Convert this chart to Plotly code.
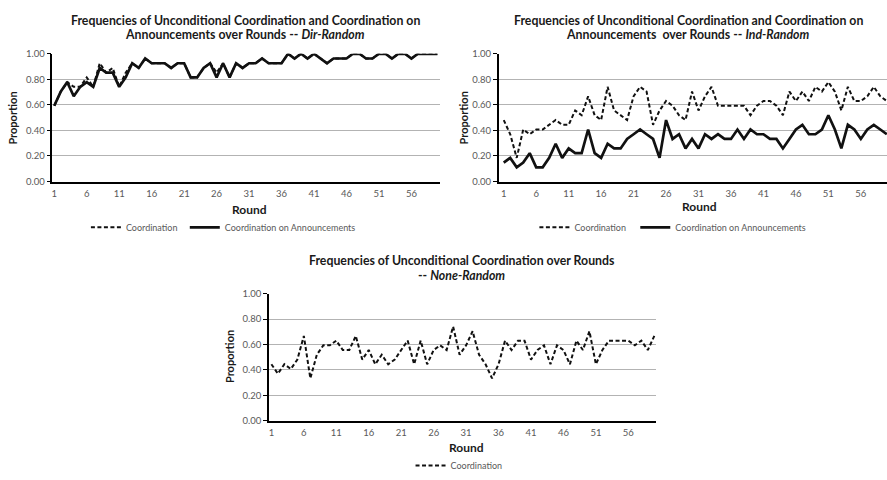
import plotly.graph_objects as go

rounds = list(range(1, 61))

# Dir-Random
dir_coord = [0.593, 0.704, 0.778, 0.741, 0.741, 0.815, 0.741, 0.926, 0.852, 0.889,
             0.741, 0.852, 0.926, 0.889, 0.963, 0.926, 0.926, 0.926, 0.889, 0.926,
             0.926, 0.815, 0.815, 0.889, 0.926, 0.852, 0.926, 0.815, 0.926, 0.889,
             0.926, 0.926, 0.963, 0.926, 0.926, 0.926, 1.0, 0.963, 1.0, 0.963,
             1.0, 0.963, 0.926, 0.963, 0.963, 0.963, 1.0, 1.0, 0.963, 0.963,
             1.0, 1.0, 0.963, 1.0, 1.0, 0.963, 1.0, 1.0, 1.0, 1.0]
dir_ann = [0.593, 0.704, 0.778, 0.667, 0.741, 0.778, 0.741, 0.889, 0.852, 0.852,
           0.741, 0.815, 0.926, 0.889, 0.963, 0.926, 0.926, 0.926, 0.889, 0.926,
           0.926, 0.815, 0.815, 0.889, 0.926, 0.815, 0.926, 0.815, 0.926, 0.889,
           0.926, 0.926, 0.963, 0.926, 0.926, 0.926, 1.0, 0.963, 1.0, 0.963,
           1.0, 0.963, 0.926, 0.963, 0.963, 0.963, 1.0, 1.0, 0.963, 0.963,
           1.0, 1.0, 0.963, 1.0, 1.0, 0.963, 1.0, 1.0, 1.0, 1.0]

# Ind-Random
ind_coord = [0.481, 0.370, 0.185, 0.407, 0.370, 0.407, 0.407, 0.444, 0.481, 0.444,
             0.444, 0.556, 0.519, 0.667, 0.519, 0.481, 0.741, 0.556, 0.519, 0.481,
             0.667, 0.741, 0.704, 0.444, 0.556, 0.630, 0.593, 0.519, 0.481, 0.704,
             0.556, 0.667, 0.741, 0.593, 0.593, 0.593, 0.593, 0.593, 0.519, 0.593,
             0.630, 0.630, 0.593, 0.519, 0.704, 0.630, 0.704, 0.630, 0.741, 0.704,
             0.778, 0.704, 0.556, 0.741, 0.630, 0.630, 0.667, 0.741, 0.667, 0.630]
ind_ann = [0.148, 0.185, 0.111, 0.148, 0.222, 0.111, 0.111, 0.185, 0.296, 0.185,
           0.259, 0.222, 0.222, 0.407, 0.222, 0.185, 0.296, 0.259, 0.259, 0.333,
           0.370, 0.407, 0.370, 0.333, 0.185, 0.481, 0.333, 0.370, 0.259, 0.333,
           0.259, 0.370, 0.333, 0.370, 0.333, 0.333, 0.407, 0.333, 0.407, 0.370,
           0.370, 0.333, 0.333, 0.259, 0.333, 0.407, 0.444, 0.370, 0.370, 0.407,
           0.519, 0.407, 0.259, 0.444, 0.407, 0.333, 0.407, 0.444, 0.407, 0.370]

# None-Random
none_coord = [0.444, 0.370, 0.444, 0.407, 0.481, 0.667, 0.333, 0.519, 0.593, 0.593,
              0.630, 0.556, 0.556, 0.667, 0.481, 0.556, 0.444, 0.519, 0.444, 0.481,
              0.556, 0.630, 0.444, 0.630, 0.444, 0.556, 0.593, 0.556, 0.741, 0.519,
              0.593, 0.704, 0.519, 0.444, 0.333, 0.444, 0.630, 0.556, 0.630, 0.630,
              0.481, 0.556, 0.593, 0.444, 0.593, 0.556, 0.444, 0.630, 0.556, 0.704,
              0.444, 0.556, 0.630, 0.630, 0.630, 0.630, 0.593, 0.630, 0.556, 0.667]

x_ticks = [1, 6, 11, 16, 21, 26, 31, 36, 41, 46, 51, 56]
y_ticks = [0.0, 0.2, 0.4, 0.6, 0.8, 1.0]
y_labels = ["0.00", "0.20", "0.40", "0.60", "0.80", "1.00"]

W, H = 887, 480
FONT = "Lato"
TICK_COLOR = "#595959"
GRID = "#b3b3b3"

def px(x):
    return x / W

def py(y):
    return (H - y) / H

dash_style = dict(color="#111111", width=2, dash="4px,2.5px")
solid_style = dict(color="#111111", width=2.7)

fig = go.Figure()
fig.add_trace(go.Scatter(x=rounds, y=dir_coord, mode="lines", name="Coordination",
                         line=dash_style, xaxis="x", yaxis="y", legend="legend"))
fig.add_trace(go.Scatter(x=rounds, y=dir_ann, mode="lines", name="Coordination on Announcements",
                         line=solid_style, xaxis="x", yaxis="y", legend="legend2"))
fig.add_trace(go.Scatter(x=rounds, y=ind_coord, mode="lines", name="Coordination",
                         line=dash_style, xaxis="x2", yaxis="y2", legend="legend3"))
fig.add_trace(go.Scatter(x=rounds, y=ind_ann, mode="lines", name="Coordination on Announcements",
                         line=solid_style, xaxis="x2", yaxis="y2", legend="legend4"))
fig.add_trace(go.Scatter(x=rounds, y=none_coord, mode="lines", name="Coordination",
                         line=dash_style, xaxis="x3", yaxis="y3", legend="legend5"))

def xaxis(domain, rng):
    return dict(domain=domain, range=rng, tickvals=x_ticks, showgrid=False, zeroline=False,
                showline=True, linecolor="#000000", linewidth=1.5, ticks="",
                ticklabelstandoff=2, tickfont=dict(family=FONT, size=9.5, color=TICK_COLOR),
                fixedrange=True)

def yaxis(domain, anchor):
    return dict(domain=domain, range=[0, 1], tickvals=y_ticks, ticktext=y_labels,
                showgrid=True, gridcolor=GRID, gridwidth=1, zeroline=False,
                showline=True, linecolor="#000000", linewidth=1.5, ticks="outside",
                ticklen=4, tickcolor="#000000", tickwidth=1,
                tickfont=dict(family=FONT, size=9.5, color=TICK_COLOR), anchor=anchor,
                fixedrange=True)

legend_common = dict(orientation="h", xanchor="left", yanchor="middle",
                     font=dict(family=FONT, size=9, color=TICK_COLOR),
                     bgcolor="rgba(0,0,0,0)", itemwidth=30,
                     itemclick=False, itemdoubleclick=False)

fig.update_layout(
    width=W, height=H,
    margin=dict(l=0, r=0, t=0, b=0),
    paper_bgcolor="white", plot_bgcolor="white",
    showlegend=True,
    xaxis=dict(**xaxis([px(51.5), px(439.5)], [0.72, 60.4]), anchor="y"),
    yaxis=yaxis([py(180), py(49)], "x"),
    xaxis2=dict(**xaxis([px(498.3), 1.0], [0.23, 60.03]), anchor="y2"),
    yaxis2=yaxis([py(180), py(49)], "x2"),
    xaxis3=dict(**xaxis([px(268.3), px(656)], [0.63, 60.3]), anchor="y3"),
    yaxis3=yaxis([py(425.3), py(295)], "x3"),
    legend=dict(**legend_common, x=px(85), y=py(227)),
    legend2=dict(**legend_common, x=px(184), y=py(227)),
    legend3=dict(**legend_common, x=px(534), y=py(227)),
    legend4=dict(**legend_common, x=px(635), y=py(227)),
    legend5=dict(**legend_common, x=px(410), y=py(471.5)),
)

title_font = dict(family=FONT, size=12.3, color="#1a1a1a")
axis_title_font = dict(family=FONT, size=12, color="#1a1a1a")
prop_font = dict(family=FONT, size=11, color="#1a1a1a")

annotations = [
    dict(text="<b>Frequencies of Unconditional Coordination and Coordination on</b>",
         x=px(244.5), y=py(15), font=title_font),
    dict(text="<b>Announcements over Rounds -- <i>Dir-Random</i></b>",
         x=px(244.5), y=py(29.5), font=title_font),
    dict(text="<b>Frequencies of Unconditional Coordination and Coordination on</b>",
         x=px(688), y=py(15), font=title_font),
    dict(text="<b>Announcements  over Rounds -- <i>Ind-Random</i></b>",
         x=px(688), y=py(29.5), font=title_font),
    dict(text="<b>Frequencies of Unconditional Coordination over Rounds</b>",
         x=px(461.5), y=py(261), font=title_font),
    dict(text="<b>-- <i>None-Random</i></b>",
         x=px(461.5), y=py(276), font=title_font),
    dict(text="<b>Round</b>", x=px(249), y=py(208.5), font=axis_title_font),
    dict(text="<b>Round</b>", x=px(699), y=py(206), font=axis_title_font),
    dict(text="<b>Round</b>", x=px(466), y=py(453), font=axis_title_font),
    dict(text="<b>Proportion</b>", x=px(12), y=py(114.5), textangle=-90, font=prop_font),
    dict(text="<b>Proportion</b>", x=px(463.3), y=py(114.5), textangle=-90, font=prop_font),
    dict(text="<b>Proportion</b>", x=px(228.3), y=py(360), textangle=-90, font=prop_font),
]
for a in annotations:
    a.update(xref="paper", yref="paper", showarrow=False, xanchor="center", yanchor="middle")
fig.update_layout(annotations=annotations)

fig.write_html("out.html")
